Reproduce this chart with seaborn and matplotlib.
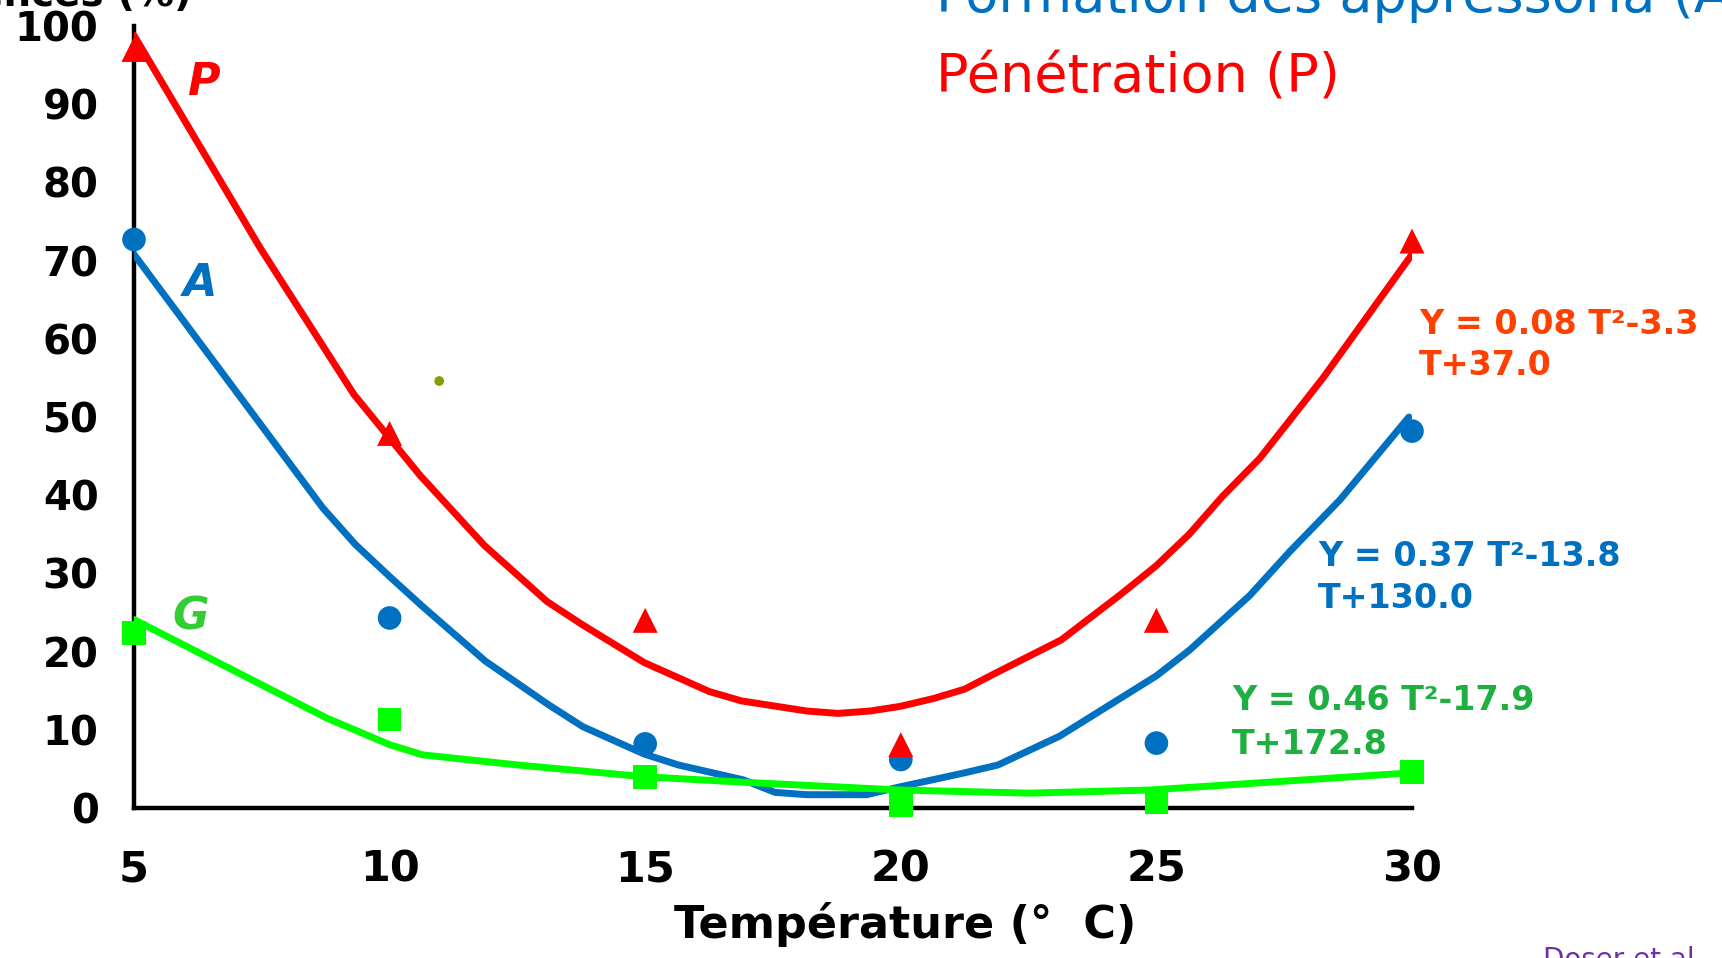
import matplotlib
matplotlib.use('Agg')
import matplotlib.pyplot as plt
import seaborn as sns

# measured points (temperature in degrees C, percent)
temps = [5, 10, 15, 20, 25, 30]
penetration = [97.0, 47.9, 24.0, 8.1, 24.0, 72.5]
appressoria = [72.7, 24.3, 8.2, 6.2, 8.3, 48.2]
germination = [22.4, 11.3, 4.0, 0.4, 0.8, 4.6]

# fitted curves
pen_fit_t = [5.0, 7.47, 9.3, 10.6, 11.85, 13.08, 13.78, 14.98, 16.25, 16.88, 18.16, 18.77, 19.4,
             19.99, 20.64, 21.25, 21.9, 23.14, 24.3, 25.0, 25.64, 26.3, 27.02, 27.54, 28.26, 30.0]
pen_fit_v = [98.8, 71.6, 52.9, 42.5, 33.6, 26.4, 23.4, 18.6, 14.9, 13.7, 12.4, 12.1, 12.4,
             13.0, 14.0, 15.2, 17.4, 21.5, 27.3, 31.0, 35.0, 39.9, 44.7, 49.0, 55.0, 70.8]
app_fit_t = [5.0, 8.69, 9.33, 10.0, 10.64, 11.87, 13.11, 13.78, 14.98, 15.65, 16.92, 17.54,
             18.16, 19.33, 19.98, 21.25, 21.9, 23.11, 25.0, 25.65, 26.83, 27.61, 28.59, 29.94]
app_fit_v = [70.8, 38.4, 33.7, 29.6, 25.8, 18.8, 13.2, 10.4, 6.9, 5.5, 3.6, 2.0,
             1.7, 1.7, 2.7, 4.5, 5.5, 9.2, 16.9, 20.2, 27.2, 32.8, 39.4, 50.0]
germ_fit_t = [5.0, 8.77, 10.0, 10.64, 12.51, 14.98, 16.92, 19.98, 22.52, 24.87, 30.0]
germ_fit_v = [24.1, 11.5, 8.1, 6.8, 5.5, 4.0, 3.3, 2.3, 1.9, 2.3, 4.5]

stray_t = [10.97]
stray_v = [54.6]

eq_pen = ['Y = 0.08 T²-3.3', 'T+37.0']
eq_app = ['Y = 0.37 T²-13.8', 'T+130.0']
eq_germ = ['Y = 0.46 T²-17.9', 'T+172.8']

RED = '#FF0000'
BLUE = '#0070C0'
GREEN = '#00FF00'

sns.set_style('white')
plt.rcParams['font.family'] = ['DejaVu Sans']
plt.rcParams['text.color'] = 'black'
plt.rcParams['axes.labelcolor'] = 'black'
plt.rcParams['xtick.color'] = 'black'
plt.rcParams['ytick.color'] = 'black'

W, H = 1722, 958
fig = plt.figure(figsize=(W / 100, H / 100), dpi=100)
ax = fig.add_axes([134 / W, 1 - 808 / H, (1412 - 134) / W, (808 - 26) / H])

#curves
sns.lineplot(x=app_fit_t, y=app_fit_v, sort=False, estimator=None, color=BLUE, lw=5, zorder=3, ax=ax)
sns.lineplot(x=pen_fit_t, y=pen_fit_v, sort=False, estimator=None, color=RED, lw=5, zorder=3, ax=ax)
sns.lineplot(x=germ_fit_t, y=germ_fit_v, sort=False, estimator=None, color=GREEN, lw=5, zorder=3.5, ax=ax)

#points
sns.scatterplot(x=temps, y=appressoria, marker='o', s=17 ** 2, color=BLUE, edgecolor='none',
                zorder=5, clip_on=False, ax=ax)
sns.scatterplot(x=temps, y=penetration, marker='^', s=18 ** 2, color=RED, edgecolor='none',
                zorder=6, clip_on=False, ax=ax)
sns.scatterplot(x=temps, y=germination, marker='s', s=17 ** 2, color=GREEN, edgecolor='none',
                zorder=7, clip_on=False, ax=ax)
sns.scatterplot(x=stray_t, y=stray_v, marker='o', s=7 ** 2, color='#7FA000', edgecolor='none',
                zorder=5, ax=ax)

ax.set_xlim(5, 30)
ax.set_ylim(0, 100)
ax.set_xticks(temps)
ax.set_yticks(range(0, 101, 10))
sns.despine(ax=ax)
for s in ['left', 'bottom']:
    ax.spines[s].set_linewidth(3.2)
    ax.spines[s].set_color('black')
    ax.spines[s].set_zorder(2)
ax.tick_params(axis='both', direction='inout', length=15, width=3.2, color='black', labelcolor='black')
ax.tick_params(axis='y', labelsize=29, pad=18)
ax.tick_params(axis='x', labelsize=31, pad=22)
for lab in ax.get_xticklabels() + ax.get_yticklabels():
    lab.set_fontweight('bold')

ax.set_xlabel('Température (°  C)', fontsize=32, fontweight='bold', va='top', color='black')
ax.xaxis.set_label_coords((905 - 134) / (1412 - 134), (808 - 902) / (808 - 26))
ax.set_ylabel('')

#curve names
ax.text(6.35, 92.8, 'P', color=RED, fontsize=32, fontweight='bold', style='italic', ha='center', va='center')
ax.text(6.29, 67.1, 'A', color=BLUE, fontsize=32, fontweight='bold', style='italic', ha='center', va='center')
ax.text(6.1, 24.4, 'G', color='#33CC33', fontsize=32, fontweight='bold', style='italic', ha='center', va='center')

#equations
def put(x, y, s, **kw):
    fig.text(x / W, 1 - y / H, s, **kw)

for (eq, col, left, y1, y2) in [(eq_pen, '#FF4000', 1419, 324, 365),
                                (eq_app, BLUE, 1318, 557, 598),
                                (eq_germ, '#1DB040', 1232, 700, 744)]:
    put(left, y1, eq[0], color=col, fontsize=24, fontweight='bold', ha='left', va='center')
    put(left, y2, eq[1], color=col, fontsize=24, fontweight='bold', ha='left', va='center')

#titles, partly cut by the frame
put(936, 12, 'Formation des appressoria (A)', color=BLUE, fontsize=39, ha='left', va='baseline')
put(936, 92, 'Pénétration (P)', color=RED, fontsize=39, ha='left', va='baseline')
put(192, 6, 'Fréquences (%)', color='black', fontsize=28, fontweight='bold', ha='right', va='baseline')
put(1543, 946, 'Doser et al.', color='#7030A0', fontsize=20, ha='left', va='top')

plt.savefig('out.png', dpi=100)
